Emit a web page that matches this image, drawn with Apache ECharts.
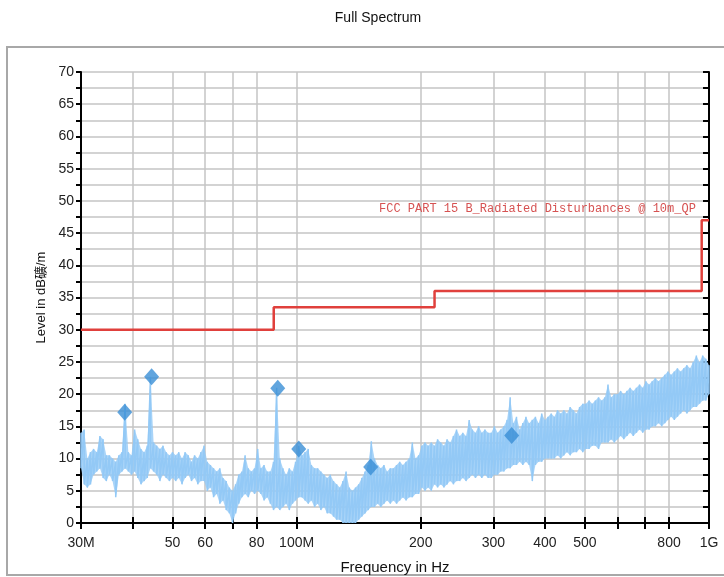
<!DOCTYPE html>
<html>
<head>
<meta charset="utf-8">
<script src="https://cdn.jsdelivr.net/npm/echarts@6/dist/echarts.min.js"></script>
<style>
  html, body { margin: 0; padding: 0; background: #fff; }
  #main { width: 724px; height: 577px; }
</style>
</head>
<body>
<div id="main"></div>
<script>
// sweep range in MHz, noise columns are evenly spaced on the log axis
const sweepStart = 30;
const sweepStop = 1000;

// top and bottom of the measured trace per column (dBuV/m)
const noiseHigh = [
  14, 14.5, 10, 11, 11.5, 11, 13.5, 13, 10.5, 10.5,
  10, 9.5, 10.5, 11, 18.5, 11, 10.5, 14.5, 13, 11.5,
  11, 12, 22.7, 12.5, 12, 11.5, 12, 11, 10.5, 11,
  10.5, 11, 10, 11, 10.5, 9.5, 10.5, 10, 11, 12,
  9.5, 9, 8.5, 8, 8.5, 7, 6.5, 5.5, 5, 6,
  7.5, 8, 10.5, 8.5, 8, 8.5, 11.5, 8.5, 9, 8,
  8, 9.5, 21, 10, 8.5, 7.5, 8.5, 8, 9.5, 12,
  10.5, 11, 11.5, 9, 8.5, 8.5, 8, 7.5, 7, 7.5,
  6.5, 6, 5.5, 6.5, 8, 5.5, 5, 5.5, 6, 7,
  8, 9, 12.7, 10, 9, 8.5, 9, 8, 8.5, 8.5,
  9, 9.5, 9, 9.5, 10, 12.5, 10, 10.5, 12, 12.5,
  12, 12.5, 12, 13, 12.5, 12, 13, 12.5, 13.5, 14.5,
  13.5, 14, 13.5, 16, 14.5, 14, 15, 14, 14.5, 14,
  14, 15, 14, 14.5, 15, 16, 19.5, 15.5, 16.5, 14.5,
  15.5, 16.5, 15.5, 16, 16.5, 15.5, 17, 16, 16.5, 17,
  16.5, 17.5, 17, 17.5, 17, 18, 17.5, 17, 18, 18.5,
  18.5, 19, 18.5, 19, 19.5, 19, 19.5, 21.5, 19.5, 20,
  20, 20.5, 20, 20.5, 21, 20.5, 21, 21.5, 21, 22,
  21.5, 22, 22.5, 22, 22.5, 23, 23.5, 23, 23.5, 24,
  23.5, 24, 24.5, 24, 25, 26, 25, 26, 25.5, 24.5
];
const noiseLow = [
  8.5, 6, 5.5, 6, 7.5, 8, 8.5, 7, 6.5, 7.5,
  6.5, 4, 7.5, 8, 8.5, 8, 7.5, 8, 7, 6,
  6.5, 7, 8.5, 8, 7.5, 6.5, 7.5, 7, 6.5, 7,
  6.5, 7, 6, 7, 7.5, 6.5, 7, 6, 6.5, 6.5,
  5, 5.5, 4, 4.5, 3, 3.5, 2, 1.5, 0, 1.5,
  3, 4, 4.5, 4, 5, 4.5, 5, 4.5, 3.5, 4,
  3, 2, 2.5, 2, 2.5, 3, 2, 3, 3.5, 4,
  4, 3.5, 3, 3.5, 2.5, 3, 2, 2.5, 1.5, 1.5,
  1, 0.5, 0.5, 0, 0, 0, 0, 0, 0.5, 1,
  1.5, 2, 2.5, 2.5, 3, 2.5, 3, 3.5, 3, 3.5,
  3, 3.5, 4, 3.5, 4, 4, 4.5, 4.5, 5.5, 5,
  5.5, 5, 6, 5.5, 6, 5.5, 6, 6.5, 6, 6.5,
  6.5, 7, 6.5, 7, 7.5, 7, 7.5, 7, 7.5, 7,
  7, 7.5, 7.5, 8, 8, 8.5, 8.5, 9, 9, 9.5,
  9, 9.5, 9, 6.5, 9, 9.5, 9.5, 10, 10, 10,
  10, 10.5, 10, 10.5, 11, 10.5, 11, 11, 11.5, 11,
  11.5, 11.5, 12, 12, 11.5, 12.5, 12.5, 12.5, 13, 12.5,
  13, 13.5, 13, 13.5, 14, 13.5, 14, 14.5, 14, 14.5,
  14.5, 15, 15, 15.5, 15, 15.5, 16, 16.5, 16, 16.5,
  17, 17.5, 17, 17.5, 18, 18, 18.5, 19, 19, 20
];

// quasi-peak final measurements (diamonds)
const peakFreq = [38.3, 44.5, 90.0, 101.2, 151.2, 332.3];
const peakLevel = [17.2, 22.7, 20.9, 11.5, 8.7, 13.6];

// FCC part 15 class B limit, 10 m
const limitFreq = [30, 88, 88, 216, 216, 960, 960, 1000];
const limitLevel = [30, 30, 33.5, 33.5, 36, 36, 47, 47];

const xTickValues = [30, 40, 50, 60, 70, 80, 100, 200, 300, 400, 500, 600, 700, 800, 1000];
const xLabelValues = [30, 50, 60, 80, 100, 200, 300, 400, 500, 800, 1000];
const xLabelText = { 30: "30M", 100: "100M", 1000: "1G" };

const chart = echarts.init(document.getElementById("main"));

const n = noiseHigh.length;
const colFreq = [];
for (let i = 0; i < n; i++) {
  colFreq.push(sweepStart * Math.pow(sweepStop / sweepStart, i / (n - 1)));
}
const traceData = [];
for (let i = 0; i < n; i++) {
  traceData.push([colFreq[i], noiseHigh[i]]);
  traceData.push([colFreq[i], noiseLow[i]]);
}
const bandData = colFreq.map((f, i) => [f, noiseLow[i], noiseHigh[i]]);

const traceColor = "#93c9f6";
const axisFont = { fontFamily: "Arial, Liberation Sans", fontSize: 14, color: "#222" };

function xAxisCfg(inside, show) {
  return {
    type: "log",
    logBase: 10,
    min: 30,
    max: 1000,
    position: "bottom",
    axisLine: { show: true, onZero: false, lineStyle: { color: "#000", width: 2 } },
    axisTick: {
      show: true, inside: inside, length: 6,
      customValues: xTickValues,
      lineStyle: { color: "#000", width: 2 }
    },
    axisLabel: {
      show: show,
      customValues: xLabelValues,
      margin: 13,
      ...axisFont,
      formatter: (v) => xLabelText[Math.round(v)] || String(Math.round(v))
    },
    splitLine: { show: show, lineStyle: { color: "#c4c4c4", width: 1.5 } },
    name: show ? "Frequency in Hz" : "",
    nameLocation: "middle",
    nameGap: 37,
    nameTextStyle: { fontFamily: "Arial, Liberation Sans", fontSize: 15, color: "#111" }
  };
}

function yAxisCfg(inside, show) {
  return {
    type: "value",
    min: 0,
    max: 70,
    interval: 2.5,
    axisLine: { show: true, lineStyle: { color: "#000", width: 2 } },
    axisTick: { show: true, inside: inside, length: inside ? 6 : 5, lineStyle: { color: "#000", width: 2 } },
    axisLabel: {
      show: show,
      margin: 7,
      ...axisFont,
      formatter: (v) => (v % 5 === 0 ? String(v) : "")
    },
    splitLine: { show: show, lineStyle: { color: "#c4c4c4", width: 1.5 } },
    name: show ? "Level in dB礦/m" : "",
    nameLocation: "middle",
    nameGap: 29,
    nameTextStyle: { fontFamily: "Arial, Liberation Sans, Noto Sans CJK SC", fontSize: 13, color: "#111" }
  };
}

// filled band between neighbouring columns
function renderBand(params, api) {
  const i = params.dataIndex;
  if (i >= n - 1) return null;
  const pts = [
    api.coord([colFreq[i], noiseHigh[i]]),
    api.coord([colFreq[i + 1], noiseHigh[i + 1]]),
    api.coord([colFreq[i + 1], noiseLow[i + 1]]),
    api.coord([colFreq[i], noiseLow[i]])
  ];
  return {
    type: "polygon",
    shape: { points: pts },
    style: { fill: traceColor, opacity: 0.8 }
  };
}

const option = {
  animation: false,
  backgroundColor: "#fff",
  title: {
    text: "Full Spectrum",
    left: 373,
    top: 6,
    textAlign: "center",
    textStyle: { fontFamily: "Arial, Liberation Sans", fontSize: 14, fontWeight: "normal", color: "#111" }
  },
  grid: { left: 81, right: 15, top: 72, bottom: 54, containLabel: false, outerBoundsMode: "none" },
  xAxis: [xAxisCfg(false, true), xAxisCfg(true, false)],
  yAxis: [yAxisCfg(false, true), yAxisCfg(true, false)],
  graphic: [
    {
      type: "rect",
      shape: { x: 7, y: 47, width: 740, height: 528 },
      style: { fill: "none", stroke: "#a8a8a8", lineWidth: 2 },
      z: -1
    },
    {
      type: "text",
      left: 379,
      top: 203,
      z: 10,
      style: {
        text: "FCC PART 15 B_Radiated Disturbances @ 10m_QP",
        font: "12px 'Liberation Mono', monospace",
        fill: "#d65252"
      }
    }
  ],
  series: [
    {
      name: "Band",
      type: "custom",
      data: bandData,
      encode: { x: 0, y: [1, 2] },
      renderItem: renderBand,
      silent: true,
      z: 1
    },
    {
      name: "Trace",
      type: "line",
      data: traceData,
      symbol: "none",
      silent: true,
      lineStyle: { color: traceColor, width: 1.5 },
      z: 2
    },
    {
      name: "Limit",
      type: "line",
      data: limitFreq.map((f, i) => [f, limitLevel[i]]),
      symbol: "none",
      lineStyle: { color: "#e0403c", width: 2.5 },
      z: 3
    },
    {
      name: "QP",
      type: "scatter",
      data: peakFreq.map((f, i) => [f, peakLevel[i]]),
      symbol: "diamond",
      symbolSize: [15, 17],
      itemStyle: { color: "#3a8fd6" },
      z: 4
    }
  ]
};

chart.setOption(option);
</script>
</body>
</html>
